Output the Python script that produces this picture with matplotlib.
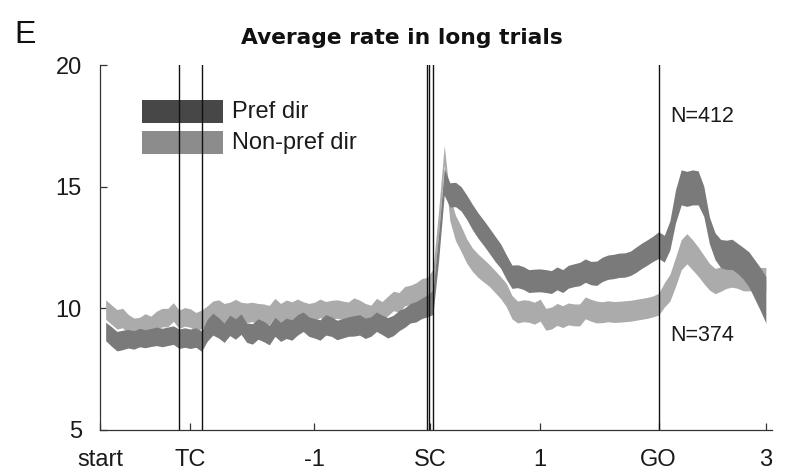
import numpy as np
import matplotlib
matplotlib.use('Agg')
import matplotlib.pyplot as plt
from matplotlib.patches import Rectangle

# ---- population average firing rate (spk/s), 50 ms bins, t=0 at SC ----
t = np.round(np.arange(-2.85, 3.001, 0.05), 2)

pref_mean = [
    9.05, 8.85, 8.65, 8.70, 8.75, 8.70, 8.80, 8.75, 8.80, 8.85,
    8.80, 8.85, 8.90, 8.75, 8.80, 8.75, 8.80, 8.65, 9.10, 9.35,
    9.20, 9.00, 9.30, 9.15, 9.35, 9.00, 8.95, 9.15, 9.05, 8.90,
    9.25, 9.04, 9.18, 9.11, 9.32, 9.45, 9.25, 9.18, 9.11, 9.32,
    9.25, 9.11, 9.18, 9.25, 9.28, 9.32, 9.18, 9.25, 9.45, 9.32,
    9.20, 9.30, 9.50, 9.62, 9.80, 9.86, 10.00, 10.10,
    10.25, 12.5, 15.2, 14.66, 14.68, 14.5, 14.15, 13.75, 13.4, 13.1,
    12.78, 12.45, 12.15, 11.7, 11.3, 11.32, 11.25, 11.12, 11.14, 11.15,
    11.12, 11.08, 11.23, 11.12, 11.30, 11.36, 11.41, 11.55, 11.45, 11.44,
    11.60, 11.69, 11.72, 11.77,
    11.78, 11.85, 12.0, 12.16, 12.30, 12.45, 12.60, 12.45, 13.0, 14.2,
    14.97, 14.91, 14.97, 14.95, 14.4, 13.2, 12.55, 12.25, 12.20, 12.22,
    12.05, 11.85, 11.6, 11.2, 10.8, 10.35,
]
pref_sem = [
    0.38, 0.40, 0.40, 0.40, 0.38, 0.38, 0.38, 0.37, 0.37, 0.38,
    0.38, 0.38, 0.38, 0.40, 0.40, 0.40, 0.40, 0.42, 0.45, 0.45,
    0.42, 0.40, 0.42, 0.42, 0.42, 0.40, 0.42, 0.42, 0.42, 0.40,
    0.40, 0.40, 0.42, 0.42, 0.42, 0.40, 0.40, 0.40, 0.42, 0.42,
    0.40, 0.40, 0.40, 0.40, 0.42, 0.42, 0.42, 0.40, 0.40, 0.40,
    0.42, 0.42, 0.42, 0.40, 0.40, 0.42, 0.42, 0.45,
    0.50, 0.55, 0.55, 0.50, 0.50, 0.50, 0.50, 0.52, 0.52, 0.52,
    0.52, 0.52, 0.50, 0.50, 0.48, 0.47, 0.47, 0.47, 0.47, 0.47,
    0.47, 0.47, 0.47, 0.47, 0.47, 0.47, 0.48, 0.48, 0.48, 0.50,
    0.50, 0.50, 0.50, 0.50,
    0.50, 0.50, 0.52, 0.52, 0.52, 0.52, 0.55, 0.55, 0.60, 0.68,
    0.72, 0.72, 0.72, 0.70, 0.62, 0.55, 0.55, 0.58, 0.60, 0.62,
    0.62, 0.65, 0.72, 0.80, 0.88, 0.95,
]

nonpref_mean = [
    9.95, 9.75, 9.55, 9.60, 9.35, 9.20, 9.25, 9.40, 9.30, 9.50,
    9.62, 9.62, 9.85, 9.55, 9.65, 9.60, 9.45, 9.55, 9.70, 9.90,
    9.95, 9.80, 9.85, 9.97, 9.85, 9.82, 9.85, 9.80, 9.78, 9.72,
    10.03, 9.82, 9.96, 9.89, 10.00, 9.89, 9.82, 9.87, 10.00, 9.90,
    9.95, 9.97, 9.92, 9.88, 10.05, 9.96, 9.82, 9.75, 10.03, 9.90,
    10.10, 10.30, 10.25, 10.50, 10.55, 10.65, 10.80, 10.85,
    11.15, 13.5, 16.3, 14.1, 13.3, 12.85, 12.35, 12.0, 11.75, 11.55,
    11.35, 11.1, 10.85, 10.55, 10.05, 9.85, 9.90, 9.88, 9.80, 9.93,
    9.55, 9.60, 9.75, 9.66, 9.77, 9.73, 9.73, 10.02, 9.92, 9.85,
    9.84, 9.88, 9.85, 9.86,
    9.88, 9.90, 9.94, 9.98, 10.02, 10.08, 10.17, 10.55, 10.85, 11.5,
    12.2, 12.45, 12.2, 11.92, 11.6, 11.3, 11.12, 11.2, 11.3, 11.35,
    11.3, 11.2, 11.2, 11.2, 11.2, 11.2,
]
nonpref_sem = [
    0.40, 0.40, 0.40, 0.40, 0.40, 0.40, 0.38, 0.38, 0.38, 0.38,
    0.38, 0.38, 0.38, 0.38, 0.38, 0.38, 0.38, 0.38, 0.40, 0.40,
    0.40, 0.40, 0.40, 0.40, 0.40, 0.40, 0.40, 0.40, 0.40, 0.40,
    0.38, 0.38, 0.38, 0.38, 0.38, 0.38, 0.38, 0.38, 0.38, 0.38,
    0.38, 0.38, 0.38, 0.38, 0.38, 0.38, 0.38, 0.38, 0.38, 0.38,
    0.40, 0.40, 0.40, 0.40, 0.40, 0.40, 0.42, 0.42,
    0.45, 0.50, 0.40, 0.50, 0.52, 0.52, 0.50, 0.48, 0.48, 0.47,
    0.45, 0.45, 0.45, 0.48, 0.48, 0.45, 0.45, 0.45, 0.45, 0.45,
    0.45, 0.45, 0.45, 0.45, 0.45, 0.45, 0.45, 0.45, 0.45, 0.45,
    0.43, 0.43, 0.43, 0.43,
    0.43, 0.43, 0.43, 0.43, 0.43, 0.43, 0.45, 0.50, 0.55, 0.60,
    0.62, 0.62, 0.62, 0.60, 0.58, 0.55, 0.52, 0.50, 0.48, 0.48,
    0.48, 0.48, 0.48, 0.48, 0.48, 0.48,
]

n_pref = 412
n_nonpref = 374

tick_pos = [-2.9, -2.1, -1, 0.024, 1, 2.05, 3]
tick_lab = ['start', 'TC', '-1', 'SC', '1', 'GO', '3']
# task events: target cue, sample cue (three markers), go signal
event_t = [-2.2, -2.0, -0.005, 0.012, 0.054, 2.05]

pref_mean, pref_sem = np.array(pref_mean), np.array(pref_sem)
nonpref_mean, nonpref_sem = np.array(nonpref_mean), np.array(nonpref_sem)

#-----figure / axes----------------------------------------------------------
W, H = 788, 472
fig = plt.figure(figsize=(W / 100, H / 100), dpi=100)
ax = fig.add_axes([100 / W, 42 / H, 671.5 / W, 365 / H])

c_pref, c_nonpref = '#7a7a7a', '#ababab'

ax.fill_between(t, nonpref_mean - nonpref_sem, nonpref_mean + nonpref_sem,
                color=c_nonpref, lw=0, zorder=2)
ax.fill_between(t, pref_mean - pref_sem, pref_mean + pref_sem,
                color=c_pref, lw=0, zorder=2.1)

for e in event_t:
    ax.axvline(e, color='#111111', lw=1.0, zorder=3)

ax.set_xlim(-2.9, 3.05)
ax.set_ylim(5, 20)
ax.set_yticks([5, 10, 15, 20])
ax.set_xticks(tick_pos)
ax.set_xticklabels(tick_lab)

for s in ['top', 'right']:
    ax.spines[s].set_visible(False)
for s in ['left', 'bottom']:
    ax.spines[s].set_color('#333333')
    ax.spines[s].set_linewidth(0.9)

ax.tick_params(direction='in', length=5, width=0.9, color='#333333',
               labelsize=17, labelcolor='#1a1a1a')
ax.tick_params(axis='x', pad=14)
ax.tick_params(axis='y', pad=13)
for lab in ax.get_xticklabels() + ax.get_yticklabels():
    lab.set_family('Liberation Sans')

#-----legend keys drawn by hand---------------------------------------------
def key(y_top, color, text):
    x0, x1 = (142 - 100) / 671.5, (223 - 100) / 671.5
    h = 23 / 365
    y0 = (430 - y_top) / 365 - h
    ax.add_patch(Rectangle((x0, y0), x1 - x0, h, transform=ax.transAxes,
                           color=color, lw=0, zorder=1))
    ax.text((232 - 100) / 671.5, y0 + h * 0.5, text, transform=ax.transAxes,
            ha='left', va='center', fontsize=17, family='Liberation Sans',
            color='#1a1a1a')

key(100, '#474747', 'Pref dir')
key(131, '#8c8c8c', 'Non-pref dir')

# N labels, anchored in data coordinates next to the GO marker
ax.text(2.15, 17.66, 'N=%d' % n_pref, fontsize=15.5, family='Liberation Sans',
        ha='left', va='baseline', color='#1a1a1a')
ax.text(2.15, 8.67, 'N=%d' % n_nonpref, fontsize=15.5, family='Liberation Sans',
        ha='left', va='baseline', color='#1a1a1a')

fig.text(401.5 / W, (H - 44) / H, 'Average rate in long trials',
         ha='center', va='baseline', fontsize=15.7, fontweight='bold',
         family='DejaVu Sans', color='#111111')
fig.text(14 / W, (H - 43) / H, 'E', ha='left', va='baseline',
         fontsize=23, family='Liberation Sans', color='#111111')

fig.savefig('out.png', dpi=100)
